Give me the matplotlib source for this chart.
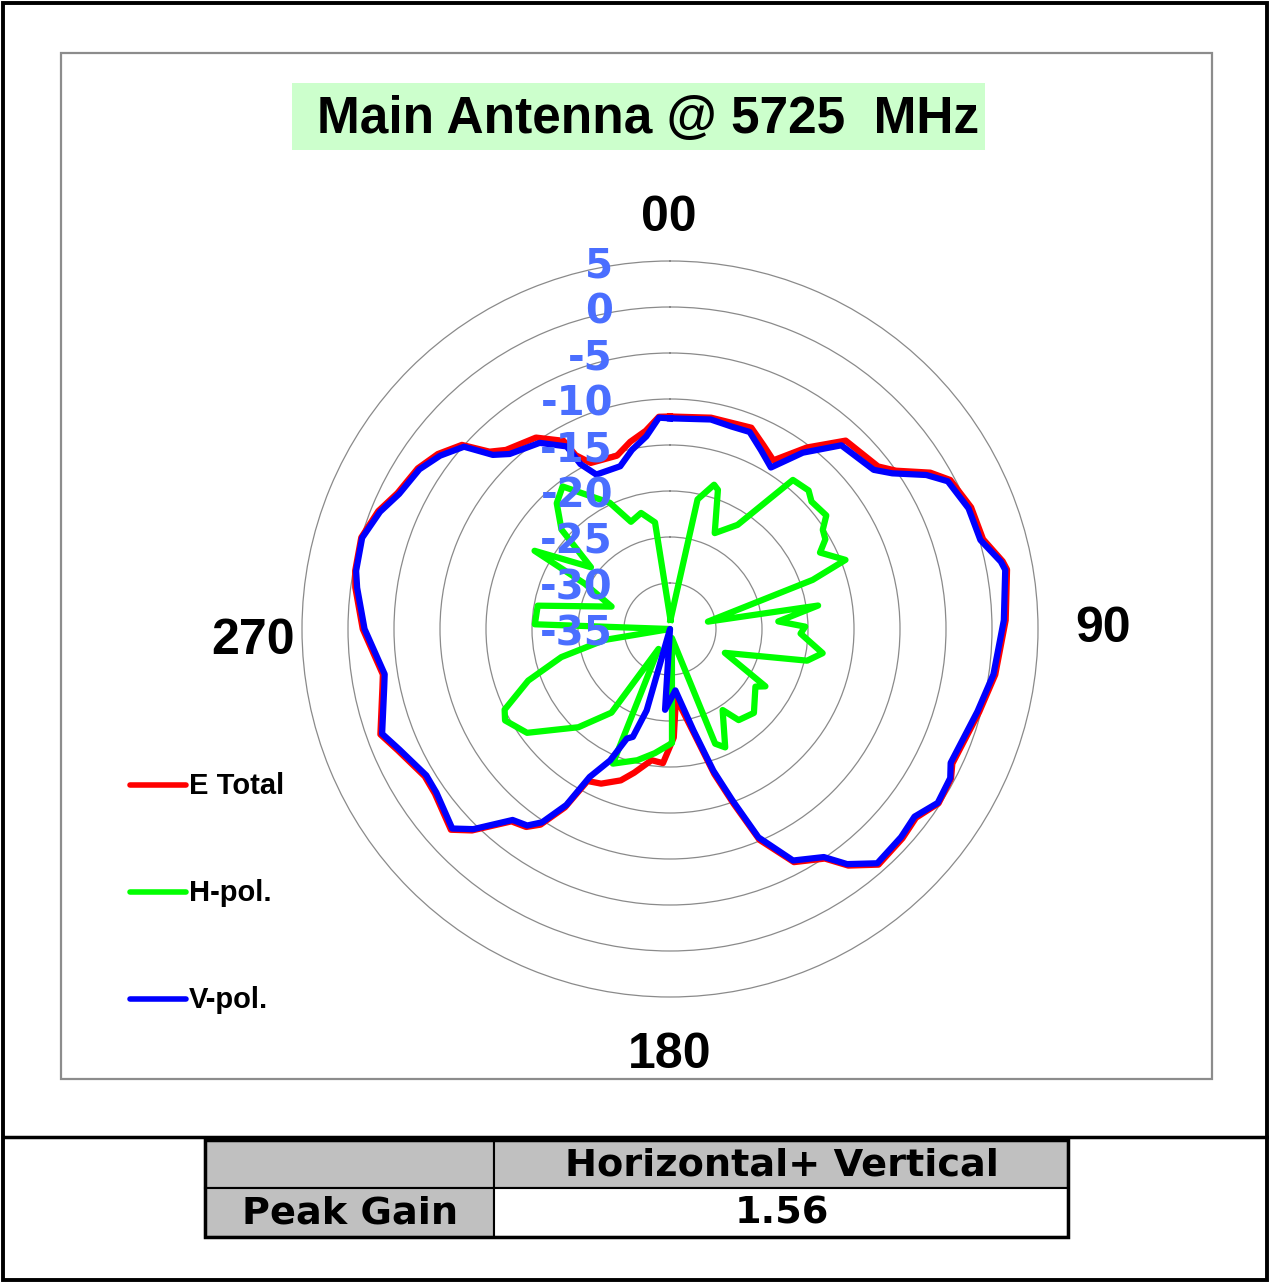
import matplotlib
matplotlib.use('Agg')
import matplotlib.pyplot as plt
import numpy as np
from matplotlib.patches import Rectangle
from matplotlib.lines import Line2D

# V-pol (blue), angle in degrees clockwise from top, gain in dB
v_ang = [0, 11, 17, 22, 27, 32, 37, 43, 52, 55, 59, 62, 68, 74, 78.5, 80, 88.5, 98, 105,
         115.5, 118, 123, 127.5, 132, 138.5, 143, 146, 152, 157, 160, 163, 167, 175, 183.5,
         189, 196, 199, 201.5, 204.5, 208.5, 210.5, 213.5, 216, 219.5, 224.5, 227.5, 235,
         239, 246, 250, 258.5, 261, 270, 277.5, 280.5, 286.5, 292, 296.5, 302.5, 307, 311.5,
         314.5, 317.5, 325, 330.5, 331.5, 334.5, 343, 348, 353, 357]
v_db = [-12.1, -11.8, -12.0, -11.9, -13.2, -14.3, -11.0, -7.7, -6.9, -5.5, -2.5, -0.8, 0.0,
        0.1, 1.7, 2.0, 1.3, 0.5, -0.4, -1.2, -0.5, -0.3, -1.5, -1.2, -1.0, -3.0, -5.1, -6.5,
        -10.4, -15.2, -18.9, -23.7, -28.3, -26.2, -35.0, -25.8, -22.6, -22.2, -19.3, -16.7,
        -12.8, -9.8, -8.6, -8.1, -4.5, -2.9, -4.0, -4.1, -2.8, -1.7, -3.3, -3.6, -1.8, -0.7,
        -0.3, -0.1, -1.0, -2.1, -2.7, -3.7, -5.1, -8.0, -9.2, -10.3, -12.2, -14.6, -16.4,
        -16.5, -15.1, -13.9, -12.0]

# E Total (red)
e_ang = [0, 11, 17, 22, 27, 31.5, 37, 43, 52, 55, 59, 62, 68, 74, 78.5, 80, 88.5, 98, 105,
         115.5, 118, 123, 127.5, 132, 138.5, 143, 146, 152, 157, 160, 163, 167, 175, 178, 183,
         188, 194, 198, 204, 208.5, 210.5, 213.5, 216, 219.5, 224.5, 227.5, 235, 239, 246,
         250, 258.5, 261, 270, 277.5, 280.5, 286.5, 292, 296.5, 302.5, 307, 311.5, 314.5,
         317.5, 325, 330.5, 331.5, 334.5, 343, 348, 353, 357]
e_db = [-11.9, -11.6, -11.6, -11.4, -12.6, -13.5, -10.3, -7.0, -6.3, -5.0, -2.0, -0.5, 0.3,
        0.4, 1.9, 2.2, 1.5, 0.7, -0.2, -1.0, -0.4, -0.2, -1.3, -1.0, -0.8, -2.8, -4.9, -6.3,
        -10.1, -14.8, -18.5, -23.3, -27.5, -23.2, -20.4, -20.6, -18.9, -17.7, -16.6, -16.2,
        -12.5, -9.5, -8.4, -7.9, -4.3, -2.7, -3.8, -3.9, -2.6, -1.5, -3.1, -3.4, -1.6, -0.5,
        -0.2, 0.0, -0.8, -1.9, -2.5, -3.4, -4.8, -7.5, -8.6, -9.6, -11.5, -13.5, -15.0,
        -15.3, -14.2, -13.3, -11.9]

# H-pol (green)
h_ang = [3, 12, 17, 19, 25, 33, 39.5, 45, 48, 54, 57, 60, 63, 68.5, 71, 79, 81, 86, 89, 92,
         99, 103, 113.5, 121, 124, 135, 143, 147, 155, 158.5, 168, 179, 187, 194, 203, 210,
         215, 223, 234, 241, 244, 250, 255.5, 260.5, 265, 272, 280, 291, 298, 300, 308,
         312.5, 318, 323, 334.5, 340, 346, 352]
h_db = [-34.0, -20.6, -18.6, -19.0, -23.5, -21.5, -14.0, -13.7, -14.3, -14.0, -15.2, -15.5,
        -16.7, -14.5, -18.6, -30.8, -18.7, -23.2, -20.3, -20.8, -18.2, -19.7, -28.5, -22.9,
        -23.8, -22.1, -22.6, -24.5, -20.8, -21.6, -34.0, -22.6, -21.4, -20.3, -19.1, -32.5,
        -23.9, -20.4, -15.8, -14.5, -15.0, -18.6, -22.8, -27.8, -35.0, -20.3, -20.4, -28.2,
        -24.5, -18.0, -24.1, -19.0, -16.6, -15.6, -19.8, -22.6, -22.0, -23.3]

r_ticks = [5, 0, -5, -10, -15, -20, -25, -30, -35]
series_names = ["E Total", "H-pol.", "V-pol."]
series_colors = ["#FF0000", "#00FF00", "#0000FF"]

W, H = 1269, 1282
fig = plt.figure(figsize=(W / 100, H / 100), dpi=100)


def fx(x):
    return x / W


def fy(y):
    return 1 - y / H


def rect(x0, y0, x1, y1, **kw):
    fig.add_artist(Rectangle((fx(x0), fy(y1)), fx(x1) - fx(x0), fy(y0) - fy(y1),
                             transform=fig.transFigure, **kw))


# frames
rect(3, 3, 1267, 1280, fill=False, ec='black', lw=2.8)
rect(61, 53, 1212, 1079, fill=False, ec='#8c8c8c', lw=1.6)
fig.add_artist(Line2D([fx(3), fx(1267)], [fy(1137), fy(1137)], color='black', lw=2.5,
                      transform=fig.transFigure))

# title
rect(292, 83, 985, 150, fc='#CCFFCC', ec='none')
fig.text(fx(648), fy(120), "Main Antenna @ 5725  MHz", ha='center', va='center',
         fontsize=37, fontweight='bold', family='Liberation Sans')

# polar plot
cx, cy, R = 670, 629, 368
ax = fig.add_axes([fx(cx - R), fy(cy + R), 2 * R / W, 2 * R / H], projection='polar')
ax.set_theta_zero_location('N')
ax.set_theta_direction(-1)
ax.set_facecolor('none')


def closed(a, d):
    a = np.deg2rad(np.r_[a, a[0] + 360])
    d = np.r_[d, d[0]]
    return a, d


for ang, db, col in [(e_ang, e_db, series_colors[0]), (h_ang, h_db, series_colors[1]),
                     (v_ang, v_db, series_colors[2])]:
    a, d = closed(ang, db)
    ax.plot(a, d, color=col, lw=4.5, solid_joinstyle='round')

ax.set_ylim(-35, 5)
ax.set_yticks([t for t in r_ticks if -35 < t < 5])
ax.set_yticklabels([])
ax.set_xticks([])
ax.yaxis.grid(True, color='#8a8a8a', lw=0.9)
ax.xaxis.grid(False)
ax.spines['polar'].set_color('#8a8a8a')
ax.spines['polar'].set_linewidth(0.9)

for t in r_ticks:
    ax.annotate(str(t), xy=(0, t), xytext=(-57, -6), textcoords='offset pixels',
                ha='right', va='center', fontsize=29, fontweight='bold',
                family='DejaVu Sans', color='#4a6eff', annotation_clip=False)

# angle labels
for txt, x, y in [("00", 669, 218), ("90", 1103, 629), ("180", 670, 1055), ("270", 253, 641)]:
    fig.text(fx(x), fy(y), txt, ha='center', va='center', fontsize=36, fontweight='bold',
             family='Liberation Sans')

# legend
for name, col, y in zip(series_names, series_colors, [785, 892, 999]):
    fig.add_artist(Line2D([fx(130), fx(186)], [fy(y), fy(y)], color=col, lw=4,
                          solid_capstyle='round', transform=fig.transFigure))
    fig.text(fx(189), fy(y + 1), name, ha='left', va='center', fontsize=21, fontweight='bold',
             family='Liberation Sans')

# peak gain table
rect(205, 1140, 494, 1188, fc='#C0C0C0', ec='black', lw=1.5)
rect(494, 1140, 1068, 1188, fc='#C0C0C0', ec='black', lw=1.5)
rect(205, 1188, 494, 1237, fc='#C0C0C0', ec='black', lw=1.5)
rect(494, 1188, 1068, 1237, fc='white', ec='black', lw=1.5)
rect(205, 1140, 1068, 1237, fill=False, ec='black', lw=2.5)
tkw = dict(ha='center', va='center', fontsize=27.5, fontweight='bold', family='DejaVu Sans')
fig.text(fx(782), fy(1165), "Horizontal+ Vertical", **tkw)
fig.text(fx(350), fy(1214), "Peak Gain", **tkw)
fig.text(fx(782), fy(1214), "1.56", **tkw)

fig.savefig("out.png", dpi=100)
